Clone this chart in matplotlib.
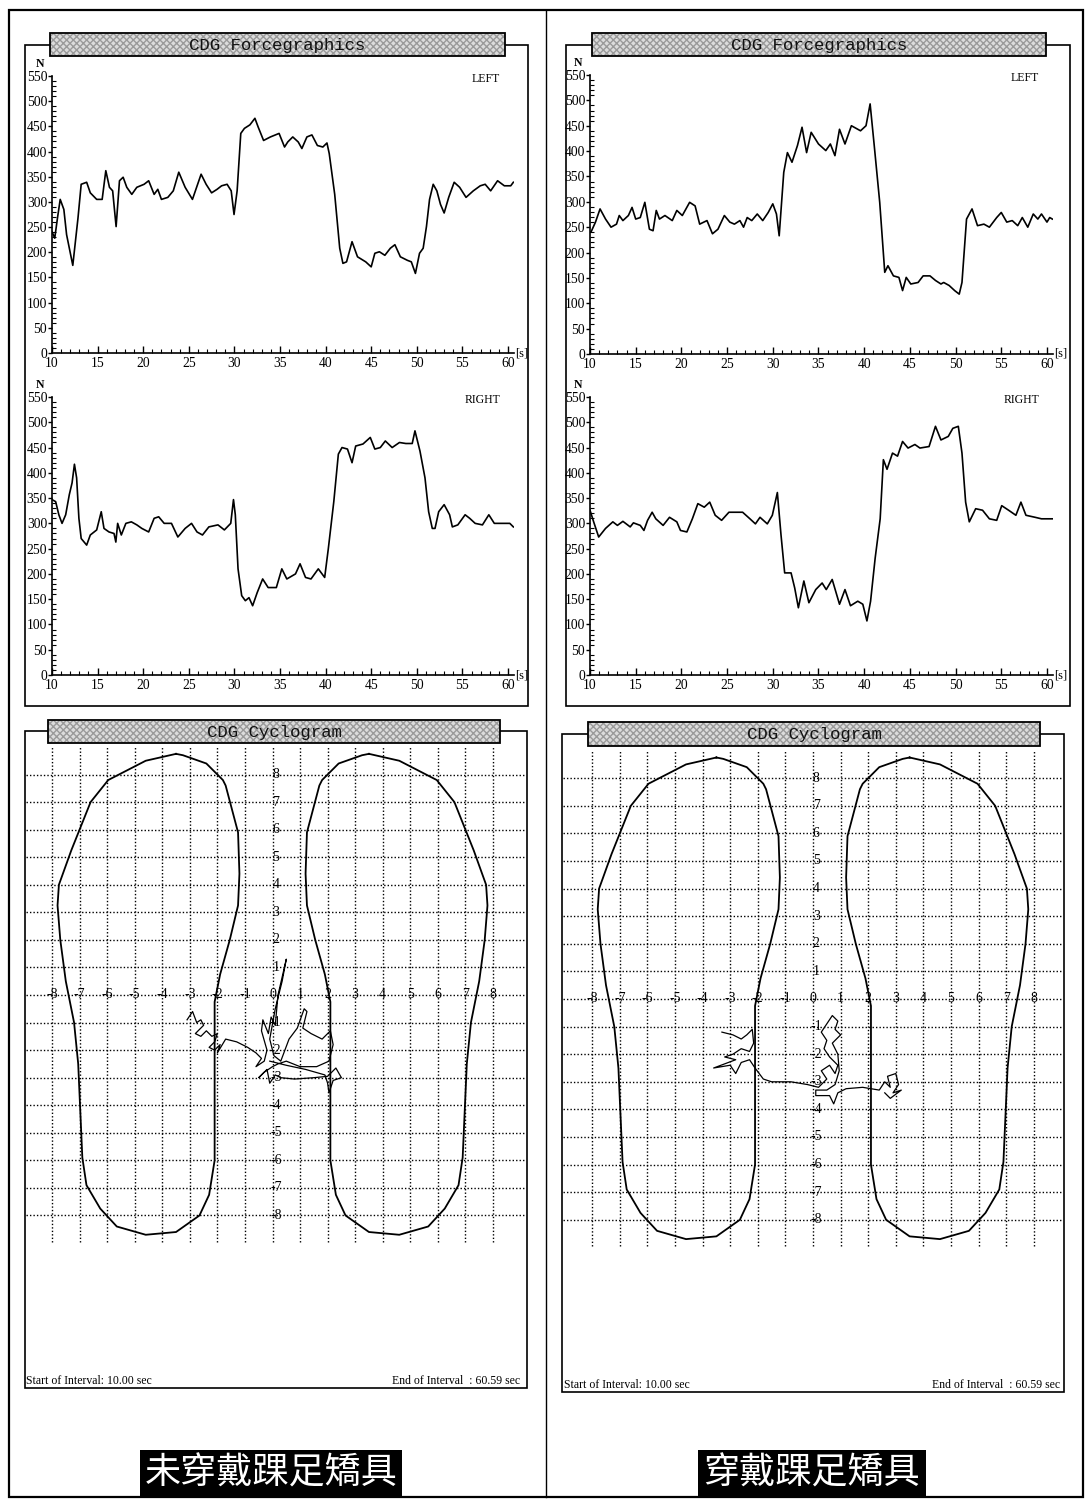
import matplotlib
matplotlib.use('Agg')
import matplotlib.pyplot as plt
from matplotlib.patches import Rectangle
from matplotlib.ticker import MultipleLocator

W, H = 1085, 1502

# --- Forcegraphics data (time in s, force in N) ---
t_izq_left = [10.0, 10.3, 10.6, 10.9, 11.3, 11.6, 12.28, 12.85, 13.2, 13.8, 14.2, 14.9, 15.5, 15.9,
              16.3, 16.65, 17.03, 17.4, 17.8, 18.2, 18.75, 19.3, 20.1, 20.6, 21.2, 21.6, 22.0, 22.7,
              23.3, 23.9, 24.6, 25.4, 26.35, 26.9, 27.5, 28.1, 28.6, 29.2, 29.65, 29.96, 30.3, 30.7,
              31.1, 31.7, 32.25, 32.6, 33.2, 33.95, 34.9, 35.5, 35.85, 36.4, 37.0, 37.4, 37.95, 38.5,
              39.1, 39.7, 40.15, 40.4, 41.0, 41.55, 41.9, 42.3, 42.9, 43.5, 44.4, 45.0, 45.4, 45.9,
              46.5, 47.1, 47.6, 48.2, 48.97, 49.4, 49.85, 50.3, 50.7, 51.06, 51.4, 51.8, 52.2, 52.6,
              53.0, 53.5, 54.1, 54.7, 55.4, 56.2, 56.96, 57.5, 58.1, 58.86, 59.6, 60.3, 60.59]
v_izq_left = [241, 228, 268, 305, 285, 235, 174, 268, 335, 339, 318, 305, 305, 362,
              329, 322, 251, 342, 349, 329, 315, 329, 335, 342, 315, 325, 305, 309,
              322, 359, 329, 305, 355, 335, 318, 325, 332, 335, 322, 275, 322, 436,
              446, 453, 466, 449, 422, 429, 436, 409, 419, 429, 419, 406, 429, 433,
              412, 409, 417, 396, 315, 208, 178, 181, 221, 191, 181, 171, 198, 201,
              194, 208, 215, 191, 184, 181, 158, 198, 208, 251, 305, 335, 322, 295,
              278, 309, 339, 329, 309, 322, 332, 335, 322, 342, 332, 332, 339]

t_izq_right = [10.0, 10.4, 10.75, 11.1, 11.5, 11.9, 12.2, 12.46, 12.7, 12.95, 13.2, 13.8, 14.2, 14.9,
               15.4, 15.7, 16.25, 16.8, 17.0, 17.2, 17.6, 18.1, 18.7, 19.3, 19.85, 20.6, 21.2, 21.7,
               22.3, 23.1, 23.8, 24.6, 25.3, 25.9, 26.5, 27.2, 28.2, 28.9, 29.6, 29.9, 30.1, 30.4,
               30.8, 31.2, 31.6, 32.0, 32.5, 33.1, 33.7, 34.6, 35.2, 35.75, 36.7, 37.2, 37.8, 38.4,
               39.2, 39.9, 40.3, 40.9, 41.4, 41.8, 42.4, 42.9, 43.3, 44.1, 44.9, 45.4, 46.0, 46.55,
               47.3, 48.1, 48.8, 49.5, 49.8, 50.35, 50.9, 51.3, 51.7, 52.0, 52.4, 53.0, 53.6, 53.9,
               54.5, 55.3, 55.8, 56.4, 57.2, 57.9, 58.5, 59.4, 60.2, 60.59]
v_izq_right = [347, 343, 317, 300, 317, 357, 380, 417, 390, 310, 270, 257, 277, 287,
               323, 290, 283, 280, 263, 300, 277, 300, 303, 297, 290, 283, 310, 313,
               300, 300, 273, 290, 300, 283, 277, 293, 297, 287, 300, 347, 317, 210,
               157, 147, 153, 137, 163, 190, 173, 173, 210, 190, 200, 220, 193, 190,
               210, 193, 250, 343, 437, 450, 447, 420, 453, 457, 470, 447, 450, 463,
               450, 460, 458, 458, 483, 443, 390, 323, 290, 290, 323, 337, 317, 293,
               297, 317, 310, 300, 297, 317, 300, 300, 300, 293]

t_der_left = [10.0, 10.1, 10.6, 11.1, 11.7, 12.3, 12.9, 13.2, 13.6, 14.2, 14.6, 15.0, 15.5, 16.0,
              16.5, 16.9, 17.25, 17.6, 18.2, 19.0, 19.5, 20.1, 20.9, 21.5, 22.0, 22.8, 23.4, 24.0,
              24.7, 25.3, 25.8, 26.4, 26.8, 27.2, 27.7, 28.3, 28.9, 29.5, 30.0, 30.4, 30.7, 31.2,
              31.6, 32.1, 32.7, 33.2, 33.7, 34.2, 35.0, 35.8, 36.3, 36.8, 37.3, 37.9, 38.6, 39.6,
              40.2, 40.65, 41.1, 41.7, 42.25, 42.6, 43.2, 43.8, 44.2, 44.6, 45.1, 45.9, 46.45, 47.2,
              47.8, 48.4, 48.7, 49.3, 49.9, 50.4, 50.7, 51.2, 51.8, 52.4, 53.1, 53.7, 54.5, 55.0,
              55.6, 56.2, 56.8, 57.3, 57.9, 58.5, 59.0, 59.4, 60.0, 60.3, 60.59]
v_der_left = [240, 240, 260, 286, 266, 250, 256, 273, 263, 273, 289, 266, 269, 299,
              246, 243, 283, 266, 273, 263, 283, 273, 299, 292, 256, 263, 237, 246,
              273, 260, 256, 263, 250, 269, 263, 276, 263, 279, 296, 276, 233, 358,
              397, 378, 411, 447, 397, 437, 414, 401, 414, 391, 443, 414, 450, 440,
              450, 493, 411, 299, 161, 174, 154, 151, 125, 151, 138, 141, 154, 154,
              145, 138, 141, 135, 125, 118, 141, 266, 286, 253, 256, 250, 269, 279,
              260, 263, 253, 269, 250, 276, 266, 276, 260, 269, 266]

t_der_right = [10.0, 10.4, 10.95, 11.7, 12.5, 13.0, 13.6, 14.4, 14.75, 15.5, 15.9, 16.3, 16.8, 17.2,
               18.0, 18.7, 19.5, 19.9, 20.6, 21.2, 21.8, 22.5, 23.1, 23.7, 24.4, 25.2, 25.95, 26.7,
               27.5, 28.1, 28.6, 29.4, 29.95, 30.5, 30.9, 31.3, 32.0, 32.4, 32.8, 33.4, 33.95, 34.7,
               35.4, 35.85, 36.5, 37.3, 37.9, 38.5, 39.3, 39.85, 40.3, 40.7, 41.2, 41.75, 42.1, 42.5,
               43.1, 43.65, 44.2, 44.8, 45.55, 46.1, 47.1, 47.8, 48.4, 49.2, 49.7, 50.3, 50.7, 51.1,
               51.5, 52.2, 52.95, 53.7, 54.5, 55.05, 55.8, 56.6, 57.15, 57.7, 58.7, 59.4, 60.57]
v_der_right = [326, 303, 273, 290, 303, 296, 304, 293, 301, 296, 286, 306, 322, 309,
               296, 312, 303, 286, 283, 309, 339, 332, 342, 316, 306, 322, 322, 322,
               309, 299, 312, 299, 316, 361, 277, 202, 202, 172, 133, 186, 143, 169,
               182, 169, 189, 140, 169, 137, 146, 140, 107, 146, 231, 309, 426, 407,
               439, 433, 462, 449, 456, 449, 452, 492, 465, 472, 488, 492, 439, 342,
               303, 329, 326, 309, 306, 335, 326, 316, 342, 316, 312, 309, 309]

# --- Cyclogram data (grid units) ---
pie_x = [-3.5, -4.6, -5.96, -6.6, -7.3, -7.75, -7.8, -7.7, -7.5, -7.2, -7.05, -6.9, -6.75, -6.25,
         -5.65, -4.6, -3.5, -2.65, -2.3, -2.1, -2.1, -1.9, -1.55, -1.25, -1.2, -1.25, -1.7, -1.8,
         -2.4, -3.25, -3.5]
pie_y = [8.75, 8.5, 7.8, 7.0, 5.25, 4.0, 3.25, 2.0, 0.5, -1.0, -2.5, -5.9, -6.9, -7.75,
         -8.4, -8.7, -8.6, -8.0, -7.25, -6.0, -0.25, 0.75, 2.0, 3.25, 4.4, 5.9, 7.6, 7.8,
         8.4, 8.7, 8.75]

cop_sin_x = [-3.1, -2.9, -2.75, -2.6, -2.5, -2.8, -2.6, -2.4, -2.2, -2.0, -2.1, -2.3, -2.1, -1.9,
             -2.0, -1.7, -1.3, -0.9, -0.6, -0.4, -0.6, -0.3, -0.2, -0.4, -0.35, -0.15, -0.05, 0.1,
             0.2, 0.5, 0.35, 0.1, -0.1, 0.05, 0.3, 0.6, 0.9, 1.15, 1.25, 1.1, 1.4, 1.8, 2.1, 2.2,
             2.05, 1.6, 1.0, 0.5, 0.2, 0.0, -0.3, -0.5, -0.2, -0.1, 0.1, 0.3, 0.8, 1.5, 2.0, 2.3,
             2.5, 2.2, 2.05, 2.0, 1.9, 1.2, 0.5, -0.1]
cop_sin_y = [-0.9, -0.6, -1.0, -0.9, -1.1, -1.4, -1.5, -1.3, -1.5, -1.4, -1.7, -1.9, -2.0, -1.8,
             -2.1, -1.6, -1.7, -1.9, -2.1, -2.3, -2.6, -2.4, -2.0, -1.3, -0.9, -1.4, -0.8, -1.1,
             0.0, 1.3, 0.5, -0.5, -1.6, -2.2, -2.4, -1.6, -1.2, -0.5, -0.6, -1.2, -1.4, -1.6, -1.3, -1.8,
             -2.4, -2.6, -2.6, -2.4, -2.5, -2.6, -2.8, -3.0, -2.7, -3.2, -2.9, -3.0, -3.05, -3.0, -2.95, -2.65,
             -3.0, -3.1, -3.55, -3.2, -2.9, -2.7, -2.55, -2.4]

cop_con_x = [-3.3, -2.9, -2.6, -2.4, -2.2, -2.15, -2.3, -2.6, -2.9, -3.2, -2.8, -3.6, -3.0, -2.8,
             -2.6, -2.3, -2.1, -1.8, -1.5, -0.8, -0.2, 0.2, 0.5, 0.3, 0.6, 0.8, 0.9, 0.6, 0.4, 0.5,
             0.3, 0.5, 0.7, 0.9, 0.8, 1.0, 0.7, 0.9, 0.95, 0.8, 0.5, 0.1, 0.1, 0.6, 0.75, 0.9, 1.2,
             1.8, 2.4, 2.6, 2.8, 2.7, 3.0, 3.1, 2.9, 3.2, 2.8, 2.6]
cop_con_y = [-1.2, -1.3, -1.45, -1.3, -1.1, -1.6, -1.9, -1.8, -2.0, -2.1, -2.2, -2.5, -2.4, -2.7,
             -2.3, -2.2, -2.5, -2.9, -3.0, -3.0, -3.1, -3.2, -2.9, -2.6, -2.4, -2.7, -2.4, -2.1, -1.8, -1.5,
             -1.2, -0.9, -0.6, -0.8, -1.1, -1.3, -1.6, -2.0, -2.6, -3.1, -3.3, -3.3, -3.5, -3.5, -3.8, -3.4, -3.25,
             -3.2, -3.3, -3.0, -3.2, -2.8, -2.7, -3.1, -3.4, -3.3, -3.6, -3.4]

fuente = 'Liberation Serif'

fig = plt.figure(figsize=(W / 100, H / 100), dpi=100)
fig.patch.set_facecolor('white')

# fondo en pixeles para marcos y barras de titulo
bg = fig.add_axes([0, 0, 1, 1])
bg.set_xlim(0, W)
bg.set_ylim(H, 0)
bg.axis('off')


def px(x0, y0, x1, y1):
    return [x0 / W, 1 - y1 / H, (x1 - x0) / W, (y1 - y0) / H]


def caja(x0, y0, x1, y1, lw=1.2):
    bg.add_patch(Rectangle((x0, y0), x1 - x0, y1 - y0, fill=False, ec='black', lw=lw))


def barra_titulo(x0, y0, x1, y1, texto):
    bg.add_patch(Rectangle((x0, y0), x1 - x0, y1 - y0, fc='#dcdcdc', ec='#9a9a9a',
                           hatch='xxxxx', lw=0))
    bg.add_patch(Rectangle((x0, y0), x1 - x0, y1 - y0, fill=False, ec='black', lw=1.3))
    bg.text((x0 + x1) / 2, (y0 + y1) / 2 + 1, texto, ha='center', va='center',
            family='Liberation Mono', fontsize=12.5, color='#111111')


def panel_fuerza(rect, t, v, lado):
    ax = fig.add_axes(px(*rect))
    ax.set_facecolor('none')
    ax.plot(t, v, color='black', lw=1.2)
    ax.set_xlim(10, 60.66)
    ax.set_ylim(0, 550)
    for s in ['top', 'right']:
        ax.spines[s].set_visible(False)
    for s in ['left', 'bottom']:
        ax.spines[s].set_linewidth(1.2)
    ax.set_xticks(range(10, 61, 5))
    ax.xaxis.set_minor_locator(MultipleLocator(1))
    ax.set_yticks(range(0, 551, 50))
    ax.yaxis.set_minor_locator(MultipleLocator(10))
    ax.tick_params(axis='x', which='major', direction='in', length=5, width=1, pad=3)
    ax.tick_params(axis='x', which='minor', direction='in', length=3, width=0.8)
    ax.tick_params(axis='y', which='major', direction='out', length=3, width=1, pad=0.5)
    ax.tick_params(axis='y', which='minor', direction='in', length=3, width=0.8)
    for lab in ax.get_xticklabels() + ax.get_yticklabels():
        lab.set_family(fuente)
        lab.set_fontsize(9.8)
    ax.text(-0.025, 1.02, 'N', transform=ax.transAxes, ha='center', va='bottom',
            family=fuente, fontsize=8.5, fontweight='bold')
    ax.text(0.97, 1.01, lado, transform=ax.transAxes, ha='right', va='top',
            family=fuente, fontsize=8.5)
    ax.text(1.003, 0.0, '[s]', transform=ax.transAxes, ha='left', va='center',
            family=fuente, fontsize=9)
    return ax


def ciclograma(rect, origen, escala, cop_x, cop_y):
    x0, y0, x1, y1 = rect
    ox, oy = origen
    ax = fig.add_axes(px(*rect))
    ax.set_facecolor('none')
    xmin, xmax = (x0 - ox) / escala, (x1 - ox) / escala
    ax.set_xlim(xmin, xmax)
    ax.set_ylim((oy - y1) / escala, (oy - y0) / escala)
    ax.axis('off')
    marcas = list(range(-8, 9))
    ax.vlines(marcas, -8.95, 9.0, colors='black', linestyles=(0, (1, 1.5)), lw=1.0)
    ax.hlines(marcas, xmin, xmax, colors='black', linestyles=(0, (1, 1.5)), lw=1.0)
    ax.plot(pie_x, pie_y, color='black', lw=1.3)
    ax.plot([-x for x in pie_x], pie_y, color='black', lw=1.3)
    ax.plot(cop_x, cop_y, color='black', lw=0.9)
    for i in marcas:
        ax.text(i, 0, str(i), ha='center', va='center', family=fuente, fontsize=10)
        if i != 0:
            ax.text(0.12, i, str(i), ha='center', va='center', family=fuente, fontsize=10)
    return ax


# marco general y division
caja(9, 10, 1083, 1497, lw=1.6)
bg.plot([546, 546], [10, 1497], color='black', lw=1)

# columna izquierda
caja(25, 45, 528, 706)
barra_titulo(50, 33, 505, 56, 'CDG Forcegraphics')
panel_fuerza((52, 76, 514, 353), t_izq_left, v_izq_left, 'LEFT')
panel_fuerza((52, 397, 514, 675), t_izq_right, v_izq_right, 'RIGHT')

caja(25, 731, 527, 1388)
ciclograma((26, 744, 526, 1386), (272.5, 995), 27.56, cop_sin_x, cop_sin_y)
barra_titulo(48, 720, 500, 743, 'CDG Cyclogram')
bg.text(26, 1381, 'Start of Interval: 10.00 sec', ha='left', va='center', family=fuente, fontsize=8.5)
bg.text(520, 1381, 'End of Interval  : 60.59 sec', ha='right', va='center', family=fuente, fontsize=8.5)

# columna derecha
caja(566, 45, 1070, 706)
barra_titulo(592, 33, 1046, 56, 'CDG Forcegraphics')
panel_fuerza((590, 75, 1053, 354), t_der_left, v_der_left, 'LEFT')
panel_fuerza((590, 397, 1053, 675), t_der_right, v_der_right, 'RIGHT')

caja(562, 734, 1064, 1392)
ciclograma((563, 747, 1063, 1390), (813, 999), 27.6, cop_con_x, cop_con_y)
barra_titulo(588, 722, 1040, 746, 'CDG Cyclogram')
bg.text(564, 1385, 'Start of Interval: 10.00 sec', ha='left', va='center', family=fuente, fontsize=8.5)
bg.text(1060, 1385, 'End of Interval  : 60.59 sec', ha='right', va='center', family=fuente, fontsize=8.5)

# rotulos en chino
cjk = ['Noto Sans CJK TC', 'DejaVu Sans']
bg.add_patch(Rectangle((140, 1450), 262, 47, fc='black', ec='none'))
bg.text(271, 1474, '未穿戴踝足矯具', ha='center', va='center', color='white',
        family=cjk, fontsize=26)
bg.add_patch(Rectangle((698, 1450), 228, 47, fc='black', ec='none'))
bg.text(812, 1474, '穿戴踝足矯具', ha='center', va='center', color='white',
        family=cjk, fontsize=26)

fig.savefig('out.png', dpi=100)
